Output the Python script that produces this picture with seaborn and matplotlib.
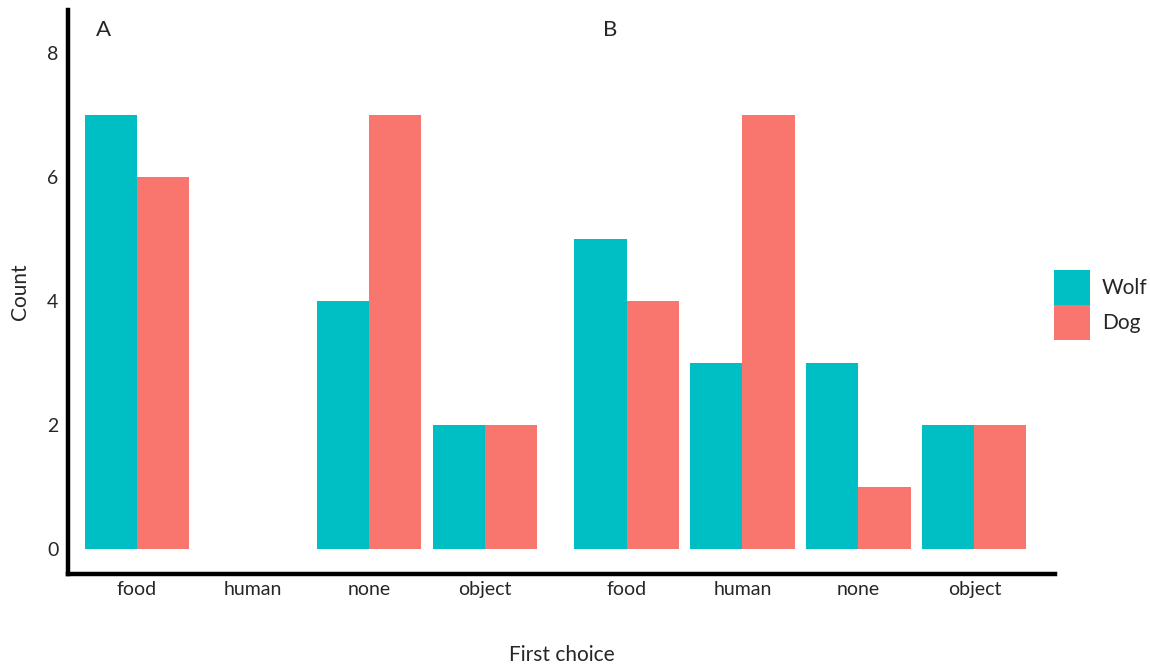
import matplotlib
matplotlib.use("Agg")
import matplotlib.pyplot as plt
import seaborn as sns
import pandas as pd
from matplotlib.patches import Patch

categories = ["food", "human", "none", "object", "food", "human", "none", "object"]
panel = ["A", "A", "A", "A", "B", "B", "B", "B"]
wolf = [7, 0, 4, 2, 5, 3, 3, 2]
dog = [6, 0, 7, 2, 4, 7, 1, 2]
positions = [0, 1, 2, 3, 4.224, 5.224, 6.224, 7.224]
species = ["Wolf", "Dog"]
colors = {"Wolf": "#00BFC4", "Dog": "#F8766D"}

rows = []
for i, p in enumerate(positions):
    rows.append({"pos": p, "Count": wolf[i], "species": "Wolf"})
    rows.append({"pos": p, "Count": dog[i], "species": "Dog"})
df = pd.DataFrame(rows)

sns.set_theme(style="white")
plt.rcParams["font.family"] = ["Lato", "DejaVu Sans"]

fig = plt.figure(figsize=(11.5, 6.68), dpi=100)
ax = fig.add_axes([68/1150, (668-574)/668, (1055-68)/1150, (574-10)/668])

sns.barplot(data=df, x="pos", y="Count", hue="species", hue_order=species,
            palette=colors, native_scale=True, width=0.9, ax=ax,
            legend=False, saturation=1, linewidth=0, errorbar=None)

ax.set_xlim(-0.595, 7.92)
ax.set_ylim(-0.4, 8.7)
ax.set_xticks(positions)
ax.set_xticklabels(categories, fontsize=14)
ax.set_yticks([0, 2, 4, 6, 8])
ax.set_yticklabels(["0", "2", "4", "6", "8"], fontsize=14)
ax.tick_params(axis="x", length=0, pad=5)
ax.tick_params(axis="y", length=0, pad=7)

for s in ["top", "right"]:
    ax.spines[s].set_visible(False)
for s in ["left", "bottom"]:
    ax.spines[s].set_color("black")
    ax.spines[s].set_linewidth(3.2)

ax.set_xlabel("First choice", fontsize=15, labelpad=34)
ax.set_ylabel("Count", fontsize=15, labelpad=12)

ax.text(-0.293, 8.37, "A", fontsize=16, ha="center", va="center")
ax.text(4.086, 8.37, "B", fontsize=16, ha="center", va="center")

handles = [Patch(facecolor=colors[s], edgecolor="none", label=s) for s in species]
fig.legend(handles=handles, loc="center left", bbox_to_anchor=(1054/1150, 1 - 305/668),
           frameon=False, fontsize=15, handlelength=1.75, handleheight=2.2,
           handletextpad=0.55, labelspacing=0.0, borderaxespad=0, borderpad=0)

fig.savefig("out.png", dpi=100)
